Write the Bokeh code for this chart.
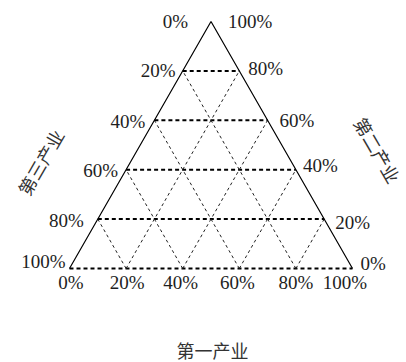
import math
from bokeh.plotting import figure
from bokeh.models import Range1d, ColumnDataSource
from bokeh.core.properties import value
from bokeh.embed import file_html
from bokeh.resources import INLINE

# ---- data ----
levels = [0, 20, 40, 60, 80, 100]
bottom_labels = ["0%", "20%", "40%", "60%", "80%", "100%"]
left_labels = ["0%", "20%", "40%", "60%", "80%", "100%"]      # top -> bottom
right_labels = ["100%", "80%", "60%", "40%", "20%", "0%"]     # top -> bottom
bottom_title = "第一产业"
right_title = "第二产业"
left_title = "第三产业"

# ---- label nudges (pixels) ----
left_dx = [-23, -7, -9, -8, -14, -4]
left_dy = [0, 0, 1, 1, 1, -7]
right_dx = [17, 9, 12, 7, 11, 8]
right_dy = [0, -2, 0, -4, 3, -5]
bottom_dx = [1.5, 1, -2, -2, 0, -7.5]
bottom_dy = [14] * 6

H = math.sqrt(3) / 2
SERIF = value("Liberation Serif")
CJK = value("Noto Sans CJK SC")
TXT = "#1e1e1e"

p = figure(width=406, height=362, min_border=0, toolbar_location=None,
           output_backend="svg",
           x_range=Range1d(-0.2438, 1.1908), y_range=Range1d(-0.3296, 0.9397))
p.axis.visible = False
p.grid.visible = False
p.outline_line_color = None
p.background_fill_color = "white"
p.border_fill_color = "white"


def left_pt(f):
    return (f / 2, f * H)


def right_pt(f):
    return (1 - f / 2, f * H)


# horizontal thick dashed lines (including bottom edge)
hx, hy = [], []
for v in levels[:-1]:
    f = v / 100
    (x0, y0), (x1, y1) = left_pt(f), right_pt(f)
    hx.append([x0, x1])
    hy.append([y0, y1])
p.multi_line(hx, hy, line_color="black", line_width=2, line_dash="4 3")

# thin dashed diagonal grid
dx_, dy_ = [], []
for v in levels[1:-1]:
    b = v / 100
    (x1, y1) = right_pt(1 - b)
    dx_.append([b, x1])
    dy_.append([0, y1])
    (x2, y2) = left_pt(b)
    dx_.append([b, x2])
    dy_.append([0, y2])
p.multi_line(dx_, dy_, line_color="#222222", line_width=1, line_dash="3 3")

# solid sides
p.line([0, 0.5, 1], [0, H, 0], line_color="black", line_width=1.2)

# left labels
lx, ly = [], []
for v in levels:
    x, y = left_pt(1 - v / 100)
    lx.append(x)
    ly.append(y)
p.text(x="x", y="y", text="t", x_offset="dx", y_offset="dy",
       source=ColumnDataSource(dict(x=lx, y=ly, t=left_labels, dx=left_dx, dy=left_dy)),
       text_font=SERIF, text_font_size="19px", text_color=TXT,
       text_align="right", text_baseline="middle")

# right labels
rx, ry = [], []
for v in levels[::-1]:
    x, y = right_pt(v / 100)
    rx.append(x)
    ry.append(y)
p.text(x="x", y="y", text="t", x_offset="dx", y_offset="dy",
       source=ColumnDataSource(dict(x=rx, y=ry, t=right_labels, dx=right_dx, dy=right_dy)),
       text_font=SERIF, text_font_size="19px", text_color=TXT,
       text_align="left", text_baseline="middle")

# bottom labels
bx = [v / 100 for v in levels]
by = [0] * len(levels)
p.text(x="x", y="y", text="t", x_offset="dx", y_offset="dy",
       source=ColumnDataSource(dict(x=bx, y=by, t=bottom_labels, dx=bottom_dx, dy=bottom_dy)),
       text_font=SERIF, text_font_size="19px", text_color=TXT,
       text_align="center", text_baseline="middle")

# axis titles
p.text(x=[0.5], y=[0], text=[bottom_title], x_offset=1.5, y_offset=82,
       text_font=CJK, text_font_size="18px", text_color="#333333",
       text_align="center", text_baseline="middle")
p.text(x=[0.25], y=[H / 2], text=[left_title], x_offset=-100, y_offset=17,
       angle=math.pi / 3, text_font=CJK, text_font_size="18px", text_color="#333333",
       text_align="center", text_baseline="middle")
p.text(x=[0.75], y=[H / 2], text=[right_title], x_offset=96, y_offset=5,
       angle=-math.pi / 3, text_font=CJK, text_font_size="18px", text_color="#333333",
       text_align="center", text_baseline="middle")

open("out.html", "w").write(file_html(p, INLINE))
